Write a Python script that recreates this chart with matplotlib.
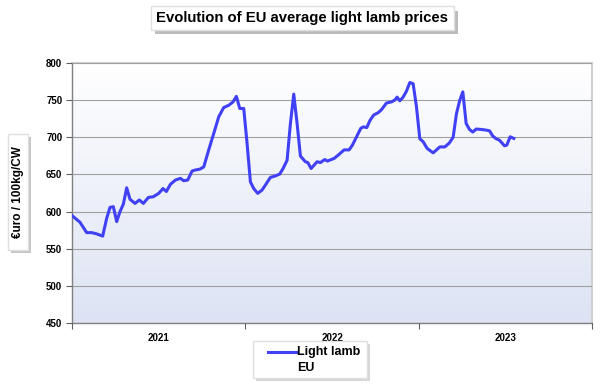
import numpy as np
import matplotlib.pyplot as plt
from matplotlib.patches import FancyBboxPatch

plt.rcParams['font.family'] = ['Liberation Sans', 'DejaVu Sans']

# weekly light lamb prices (EUR / 100kg CW), x = week index from start of axis
weeks = [0, 2.4, 4.4, 5.9, 7.4, 9.2, 10.4, 11.4, 12.4, 13.4, 14.4, 15.4, 16.4, 17.4,
         18.9, 20.2, 21.4, 22.9, 24.4, 26.0, 27.3, 28.3, 29.5, 31.0, 32.5, 33.5, 34.7,
         36.0, 37.0, 38.3, 39.5, 41.0, 42.5, 44.0, 45.5, 47.0, 48.3, 49.3, 50.3, 51.5,
         52.5, 53.5, 54.5, 55.7, 57.0, 58.0, 59.5, 61.0, 62.3, 63.3, 64.5, 65.5, 66.5,
         67.5, 68.5, 70.0, 70.7, 71.7, 73.5, 74.5, 75.8, 76.6, 78.6, 80.1, 81.6, 83.1,
         84.1, 86.6, 87.4, 88.4, 89.4, 90.5, 91.8, 92.8, 94.3, 95.8, 96.8, 97.5, 98.3,
         99.3, 100.3, 101.3, 102.3, 103.3, 104.3, 105.3, 106.5, 108.3, 109.3, 110.3,
         111.8, 113.1, 114.3, 115.3, 116.3, 117.2, 118.2, 119.2, 120.2, 121.2, 122.7,
         124.2, 125.2, 126.2, 127.2, 128.2, 129.7, 130.4, 131.4, 132.5]
prices = [594.6, 585.6, 571.7, 571.7, 570, 567, 591, 605.7, 606.6, 586.5, 600, 610,
          632, 616.5, 611, 615.6, 611, 619, 620, 624.5, 631, 627, 636.6, 642.4, 644.7,
          641.5, 642.4, 654.5, 656, 657, 660, 683, 705, 727.5, 740, 743, 747.6, 755,
          738.7, 738.7, 691.7, 640, 631, 624.5, 629, 635.7, 646, 648, 650.5, 658, 669,
          718.5, 758, 718.5, 674.7, 667, 666, 658, 667, 666, 670, 668, 671.5, 677, 683,
          683, 689.5, 712, 714, 713, 723, 730, 733, 737, 746, 747.6, 750, 754, 749, 754,
          762, 773.6, 772, 741, 698, 694, 685, 679, 683, 687, 687, 692, 700, 732, 750,
          761, 718.5, 710.5, 707, 711, 710.5, 709.6, 708.7, 701.5, 698, 696, 688.5,
          689.5, 700.6, 698.4]
years = ['2021', '2022', '2023']
weeks_per_year = 52
yticks = [450, 500, 550, 600, 650, 700, 750, 800]

fig = plt.figure(figsize=(6, 3.86), dpi=100)
ax = fig.add_axes([0.12, 0.163, 0.867, 0.674])

xmax = weeks_per_year * len(years)
# background gradient: light lavender at the bottom -> white at the top
grad = np.linspace(0, 1, 256).reshape(-1, 1)
cmap = plt.matplotlib.colors.LinearSegmentedColormap.from_list('bg', ['#dde3f4', '#ffffff'])
ax.imshow(grad, extent=[0, xmax, 450, 800], origin='lower', aspect='auto', cmap=cmap,
          zorder=0)

ax.plot(weeks, prices, color='#4040f5', lw=2.2, zorder=3, solid_joinstyle='round')

ax.set_xlim(0, xmax)
ax.set_ylim(450, 800)
ax.set_yticks(yticks)
ax.set_yticklabels([str(v) for v in yticks], fontsize=7, fontweight='bold')
ax.yaxis.grid(True, color='#a0a0a0', lw=0.8)
ax.set_axisbelow(False)

ax.set_xticks([weeks_per_year * i for i in range(len(years) + 1)])
ax.set_xticklabels([])
ax.set_xticks([weeks_per_year * (i + 0.5) for i in range(len(years))], minor=True)
ax.set_xticklabels(years, minor=True, fontsize=7, fontweight='bold')
ax.tick_params(axis='x', which='minor', length=0, pad=7)
ax.tick_params(axis='x', which='major', length=4, color='#606060')
ax.tick_params(axis='y', length=4, color='#606060', pad=3)

for s in ['top', 'right']:
    ax.spines[s].set_color('#d0d0d0')
    ax.spines[s].set_linewidth(1.5)
for s in ['left', 'bottom']:
    ax.spines[s].set_color('#808080')
    ax.spines[s].set_linewidth(1.0)

# title box with shadow
fig.patches.append(FancyBboxPatch((0.258, 0.912), 0.505, 0.06, boxstyle='square,pad=0',
                                  transform=fig.transFigure, fc='#909090', ec='none',
                                  alpha=0.6, zorder=1))
fig.patches.append(FancyBboxPatch((0.252, 0.922), 0.505, 0.062, boxstyle='square,pad=0',
                                  transform=fig.transFigure, fc='white', ec='#e0e0e0',
                                  zorder=2))
fig.text(0.503, 0.953, 'Evolution of EU average light lamb prices', ha='center',
         va='center', fontsize=10.7, fontweight='bold', zorder=3)

# y label box
fig.patches.append(FancyBboxPatch((0.019, 0.345), 0.032, 0.3, boxstyle='square,pad=0',
                                  transform=fig.transFigure, fc='#a0a0a0', ec='none',
                                  alpha=0.6, zorder=1))
fig.patches.append(FancyBboxPatch((0.014, 0.352), 0.032, 0.3, boxstyle='square,pad=0',
                                  transform=fig.transFigure, fc='white', ec='#e0e0e0',
                                  zorder=2))
fig.text(0.030, 0.502, '€uro / 100kg/CW', rotation=90, ha='center', va='center',
         fontsize=8.5, fontweight='bold', zorder=3)

# legend box
fig.patches.append(FancyBboxPatch((0.427, 0.013), 0.19, 0.097, boxstyle='square,pad=0',
                                  transform=fig.transFigure, fc='#b0b0b0', ec='none',
                                  alpha=0.5, zorder=1))
fig.patches.append(FancyBboxPatch((0.422, 0.02), 0.19, 0.097, boxstyle='square,pad=0',
                                  transform=fig.transFigure, fc='white', ec='#e0e0e0',
                                  zorder=2))
fig.add_artist(plt.Line2D([0.447, 0.493], [0.088, 0.088], color='#4040f5', lw=2.2,
                          transform=fig.transFigure, zorder=3))
fig.text(0.495, 0.088, 'Light lamb', ha='left', va='center', fontsize=9,
         fontweight='bold', zorder=3)
fig.text(0.495, 0.047, 'EU', ha='left', va='center', fontsize=9,
         fontweight='bold', zorder=3)

fig.savefig('out.png', dpi=100)
